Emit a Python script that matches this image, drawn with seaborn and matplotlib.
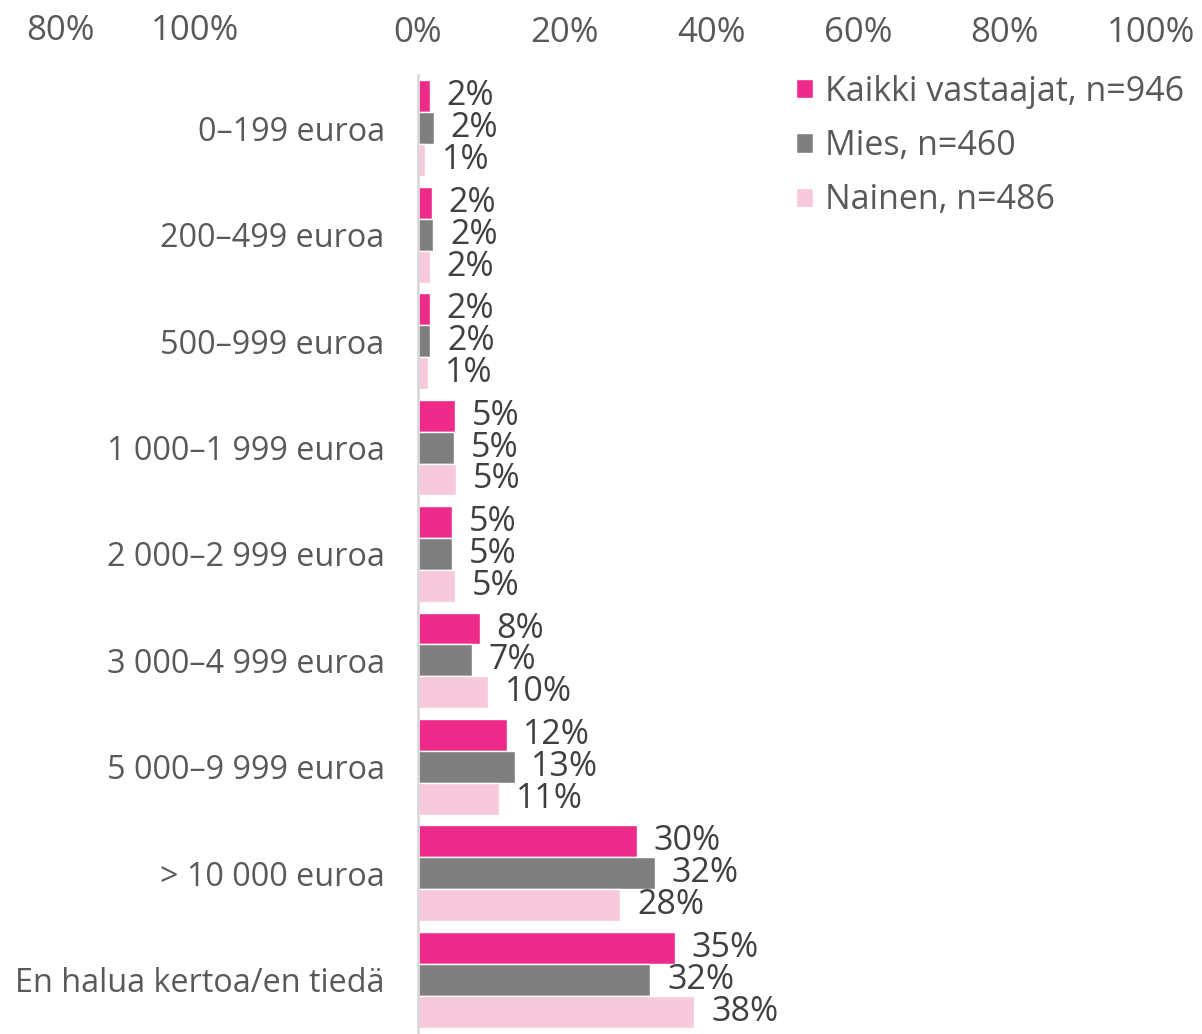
import matplotlib
matplotlib.use("Agg")
import matplotlib.pyplot as plt
import seaborn as sns
import pandas as pd
from matplotlib.patches import Patch

categories = ["0–199 euroa", "200–499 euroa", "500–999 euroa", "1 000–1 999 euroa",
              "2 000–2 999 euroa", "3 000–4 999 euroa", "5 000–9 999 euroa",
              "> 10 000 euroa", "En halua kertoa/en tiedä"]
series = ["Kaikki vastaajat, n=946", "Mies, n=460", "Nainen, n=486"]
kaikki = [1.6, 1.9, 1.6, 5.0, 4.7, 8.4, 12.1, 29.9, 35.0]
mies = [2.2, 2.1, 1.7, 4.9, 4.6, 7.3, 13.2, 32.3, 31.7]
nainen = [1.0, 1.6, 1.4, 5.2, 5.0, 9.6, 11.1, 27.6, 37.7]
xticks = [0, 20, 40, 60, 80, 100]
colors = ["#EE2A8B", "#7F7F7F", "#F8C8DC"]

rows = []
for s, vals in zip(series, [kaikki, mies, nainen]):
    for c, v in zip(categories, vals):
        rows.append({"cat": c, "series": s, "value": v})
df = pd.DataFrame(rows)

sns.set_theme(style="white")
plt.rcParams["font.family"] = ["Open Sans", "DejaVu Sans"]

fig = plt.figure(figsize=(12.02, 10.34), dpi=100)
ax = fig.add_axes([418 / 1202, 1 - 1033 / 1034, (1151 - 418) / 1202, (1033 - 75) / 1034])

sns.barplot(data=df, y="cat", x="value", hue="series", orient="h",
            palette=colors, width=0.9, ax=ax, legend=False, saturation=1)

for cont in ax.containers:
    ax.bar_label(cont, labels=[f"{v:.0f}%" for v in cont.datavalues],
                 padding=12, fontsize=24.5, color="#404040")

ax.set_xlim(0, 100)
ax.set_ylim(len(categories) - 0.5, -0.5)
ax.xaxis.tick_top()
ax.set_xticks(xticks)
ax.set_xticklabels([f"{t}%" for t in xticks], fontsize=25, color="#595959")
ax.tick_params(axis="x", length=0, pad=18)
ax.tick_params(axis="y", length=0, pad=24, labelsize=23.3, labelcolor="#595959")
ax.set_xlabel("")
ax.set_ylabel("")
for sp in ["top", "right", "bottom"]:
    ax.spines[sp].set_visible(False)
ax.spines["left"].set_color("#D9D9D9")
ax.spines["left"].set_linewidth(2)

# stray axis labels at the top-left of the original
fig.text(60 / 1202, 1 - 31 / 1034, "80%", ha="center", va="center", fontsize=25, color="#595959")
fig.text(195 / 1202, 1 - 31 / 1034, "100%", ha="center", va="center", fontsize=25, color="#595959")

handles = [Patch(facecolor=c, label=s) for c, s in zip(colors, series)]
fig.legend(handles=handles, loc="upper left", bbox_to_anchor=(782 / 1202, 1 - 61 / 1034),
           frameon=False, fontsize=24.5, labelcolor="#595959", handlelength=0.5,
           handleheight=0.5, handletextpad=0.35, labelspacing=0.6, borderaxespad=0)

fig.savefig("out.png", dpi=100)
